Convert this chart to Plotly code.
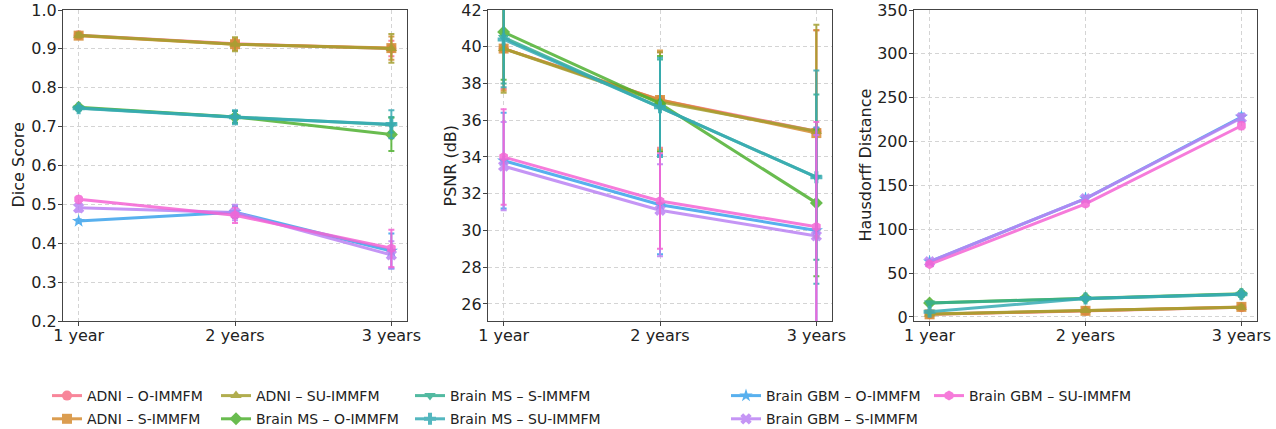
import plotly.graph_objects as go

years = ["1 year", "2 years", "3 years"]

series_names = [
    "ADNI – O-IMMFM", "ADNI – S-IMMFM", "ADNI – SU-IMMFM",
    "Brain MS – O-IMMFM", "Brain MS – S-IMMFM", "Brain MS – SU-IMMFM",
    "Brain GBM – O-IMMFM", "Brain GBM – S-IMMFM", "Brain GBM – SU-IMMFM",
]
colors = ["#f77189", "#d58c32", "#a4a031", "#50b131", "#34ae91",
          "#37abb5", "#3ba3ec", "#bb83f4", "#f564d4"]
symbols = ["circle", "square", "triangle-up", "diamond", "triangle-down",
           "cross", "star", "x", "hexagon"]

# Dice score (mean, std)
dice_adni_o = [0.935, 0.913, 0.901]
dice_adni_s = [0.934, 0.912, 0.902]
dice_adni_su = [0.935, 0.912, 0.901]
dice_ms_o = [0.750, 0.725, 0.680]
dice_ms_s = [0.748, 0.725, 0.705]
dice_ms_su = [0.747, 0.724, 0.706]
dice_gbm_o = [0.457, 0.480, 0.380]
dice_gbm_s = [0.491, 0.479, 0.370]
dice_gbm_su = [0.513, 0.472, 0.387]
dice_err_adni_o = [0.005, 0.010, 0.020]
dice_err_adni_s = [0.006, 0.015, 0.030]
dice_err_adni_su = [0.006, 0.018, 0.037]
dice_err_ms_o = [0.005, 0.015, 0.043]
dice_err_ms_s = [0.005, 0.015, 0.020]
dice_err_ms_su = [0.006, 0.018, 0.036]
dice_err_gbm_o = [0.005, 0.015, 0.045]
dice_err_gbm_s = [0.010, 0.020, 0.035]
dice_err_gbm_su = [0.008, 0.020, 0.048]

# PSNR (mean, std)
psnr_adni_o = [39.9, 37.1, 35.4]
psnr_adni_s = [39.9, 37.1, 35.3]
psnr_adni_su = [39.9, 37.0, 35.4]
psnr_ms_o = [40.8, 36.9, 31.5]
psnr_ms_s = [40.5, 36.7, 32.9]
psnr_ms_su = [40.4, 36.7, 32.9]
psnr_gbm_o = [33.8, 31.4, 30.0]
psnr_gbm_s = [33.5, 31.1, 29.7]
psnr_gbm_su = [34.0, 31.6, 30.2]
psnr_err_adni_o = [2.2, 2.6, 5.5]
psnr_err_adni_s = [2.3, 2.7, 5.6]
psnr_err_adni_su = [2.4, 2.7, 5.8]
psnr_err_ms_o = [2.6, 2.6, 4.0]
psnr_err_ms_s = [2.5, 2.6, 4.5]
psnr_err_ms_su = [2.6, 2.7, 5.8]
psnr_err_gbm_o = [2.6, 2.7, 5.6]
psnr_err_gbm_s = [2.4, 2.5, 5.5]
psnr_err_gbm_su = [2.6, 2.6, 5.7]

# Hausdorff distance (mean, std)
hd_adni_o = [3.0, 7.0, 11.0]
hd_adni_s = [3.0, 7.0, 11.5]
hd_adni_su = [3.5, 7.5, 11.0]
hd_ms_o = [16.0, 21.5, 26.5]
hd_ms_s = [16.0, 21.0, 26.0]
hd_ms_su = [6.0, 21.0, 26.0]
hd_gbm_o = [63.0, 135.0, 228.0]
hd_gbm_s = [63.0, 135.0, 227.0]
hd_gbm_su = [60.0, 129.0, 218.0]
hd_err_adni = [1.0, 1.5, 2.0]
hd_err_ms = [1.5, 2.0, 3.0]
hd_err_gbm = [2.0, 3.0, 4.0]

dice = [dice_adni_o, dice_adni_s, dice_adni_su, dice_ms_o, dice_ms_s, dice_ms_su,
        dice_gbm_o, dice_gbm_s, dice_gbm_su]
dice_err = [dice_err_adni_o, dice_err_adni_s, dice_err_adni_su, dice_err_ms_o,
            dice_err_ms_s, dice_err_ms_su, dice_err_gbm_o, dice_err_gbm_s, dice_err_gbm_su]
psnr = [psnr_adni_o, psnr_adni_s, psnr_adni_su, psnr_ms_o, psnr_ms_s, psnr_ms_su,
        psnr_gbm_o, psnr_gbm_s, psnr_gbm_su]
psnr_err = [psnr_err_adni_o, psnr_err_adni_s, psnr_err_adni_su, psnr_err_ms_o,
            psnr_err_ms_s, psnr_err_ms_su, psnr_err_gbm_o, psnr_err_gbm_s, psnr_err_gbm_su]
hd = [hd_adni_o, hd_adni_s, hd_adni_su, hd_ms_o, hd_ms_s, hd_ms_su,
      hd_gbm_o, hd_gbm_s, hd_gbm_su]
hd_err = [hd_err_adni] * 3 + [hd_err_ms] * 3 + [hd_err_gbm] * 3

y_titles = ["Dice Score", "PSNR (dB)", "Hausdorff Distance"]

legend_col = [1, 1, 2, 2, 3, 3, 4, 4, 5]

W, H = 1276, 429
FONT = "DejaVu Sans"

fig = go.Figure()

panels = [
    (dice, dice_err, "x", "y"),
    (psnr, psnr_err, "x2", "y2"),
    (hd, hd_err, "x3", "y3"),
]
for p, (vals, errs, xa, ya) in enumerate(panels):
    for i, name in enumerate(series_names):
        lg = "legend" if legend_col[i] == 1 else f"legend{legend_col[i]}"
        fig.add_trace(go.Scatter(
            x=years, y=vals[i], name=name, xaxis=xa, yaxis=ya,
            mode="lines+markers",
            line=dict(color=colors[i], width=3),
            marker=dict(symbol=symbols[i], size=10, color=colors[i],
                        line=dict(width=0)),
            error_y=dict(type="data", array=errs[i], color=colors[i],
                         thickness=2, width=3),
            opacity=0.85, legendgroup=name,
            showlegend=(p == 0), legend=lg,
        ))

def px_x(a, b):
    return [a / W, b / W]

top = 1 - 10 / H
bot = 1 - 321 / H

axis_common = dict(
    showline=True, linecolor="#444444", linewidth=1.2, mirror=True,
    ticks="outside", ticklen=4, tickcolor="#444444",
    showgrid=True, gridcolor="#d4d4d4", griddash="4px,3px", gridwidth=0.8,
    zeroline=False, tickfont=dict(family=FONT, size=16, color="#222222"),
    automargin=False, ticklabeloverflow="allow",
)
x_common = dict(axis_common, type="category", range=[-0.1, 2.1], ticklabelstandoff=-4)
y_common = dict(axis_common, ticklabelstandoff=-2)

fig.update_layout(
    width=W, height=H, margin=dict(l=0, r=0, t=0, b=0, autoexpand=False),
    paper_bgcolor="white", plot_bgcolor="white",
    font=dict(family=FONT, size=15, color="#222222"),
    xaxis=dict(domain=px_x(63, 407), anchor="y", **x_common),
    xaxis2=dict(domain=px_x(488, 832), anchor="y2", **x_common),
    xaxis3=dict(domain=px_x(914, 1257), anchor="y3", **x_common),
    yaxis=dict(domain=[bot, top], anchor="x", range=[0.2, 1.0], dtick=0.1,
               tickformat=".1f", **y_common),
    yaxis2=dict(domain=[bot, top], anchor="x2", range=[25.07, 42], tick0=26, dtick=2,
                **y_common),
    yaxis3=dict(domain=[bot, top], anchor="x3", range=[-4.6, 350], dtick=50,
                **y_common),
)

# y-axis titles placed like the reference
title_x = [18, 450, 865]
for t, tx in zip(y_titles, title_x):
    fig.add_annotation(text=t, x=tx / W, y=(top + bot) / 2, xref="paper", yref="paper",
                       xanchor="center", yanchor="middle", textangle=-90,
                       showarrow=False, font=dict(family=FONT, size=16, color="#222222"))

text_x = [90, 259, 453, 769, 972]
for k, tx in enumerate(text_x, start=1):
    key = "legend" if k == 1 else f"legend{k}"
    fig.update_layout(**{key: dict(
        x=(tx - 43) / W, xanchor="left", y=1 - 380 / H, yanchor="top",
        orientation="v", bgcolor="rgba(0,0,0,0)", borderwidth=0,
        font=dict(family=FONT, size=14, color="#222222"),
        itemwidth=30, tracegroupgap=2,
    )})

fig.write_html("out.html")
